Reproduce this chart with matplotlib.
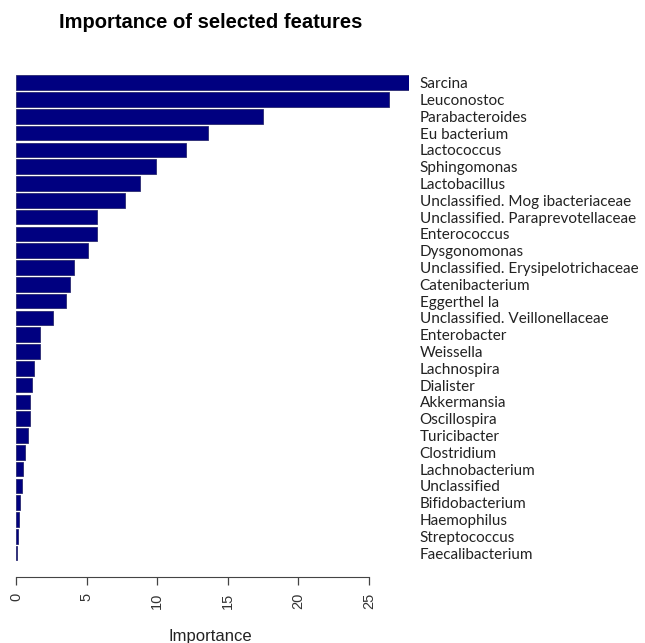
import numpy as np
import matplotlib.pyplot as plt

# feature importances, largest first
features = [
    "Sarcina", "Leuconostoc", "Parabacteroides", "Eu bacterium", "Lactococcus",
    "Sphingomonas", "Lactobacillus", "Unclassified. Mog ibacteriaceae",
    "Unclassified. Paraprevotellaceae", "Enterococcus", "Dysgonomonas",
    "Unclassified. Erysipelotrichaceae", "Catenibacterium", "Eggerthel la",
    "Unclassified. Veillonellaceae", "Enterobacter", "Weissella", "Lachnospira",
    "Dialister", "Akkermansia", "Oscillospira", "Turicibacter", "Clostridium",
    "Lachnobacterium", "Unclassified", "Bifidobacterium", "Haemophilus",
    "Streptococcus", "Faecalibacterium",
]
importance = [
    27.87, 26.43, 17.47, 13.57, 12.06, 9.93, 8.77, 7.69, 5.75, 5.70, 5.11,
    4.07, 3.83, 3.50, 2.63, 1.68, 1.66, 1.26, 1.11, 0.99, 0.95, 0.85, 0.62,
    0.48, 0.38, 0.24, 0.17, 0.10, 0.02,
]
xticks = [0, 5, 10, 15, 20, 25]

W, H = 645, 643
fig = plt.figure(figsize=(W / 100, H / 100), dpi=100)
ax = fig.add_axes([16.3 / W, 1 - 562.5 / H, 393 / W, (562.5 - 73.3) / H])

pos = np.arange(len(features))
ax.barh(pos, importance, height=0.88, color="#000080",
        edgecolor="#2a2a70", linewidth=0.6)

ax.set_xlim(0, max(importance))
ax.set_ylim(len(features) - 0.44, -0.56)

for s in ["top", "right", "left"]:
    ax.spines[s].set_visible(False)
ax.spines["bottom"].set_position(("outward", 10.7))
ax.spines["bottom"].set_bounds(0, 25)
ax.spines["bottom"].set_color("#444444")

ax.set_xticks(xticks)
ax.set_xticklabels([str(t) for t in xticks], rotation=90, fontsize=10.5,
                   family="Liberation Sans", color="#333333")
ax.tick_params(axis="x", length=5.8, width=0.9, color="#444444", pad=5.5)

ax.yaxis.tick_right()
ax.set_yticks(pos)
ax.set_yticklabels(features, fontsize=11, family="Lato", color="#222222")
ax.tick_params(axis="y", length=0, pad=7.5)

fig.text(211 / W, 1 - 22.7 / H, "Importance of selected features",
         ha="center", va="center", fontsize=14.5, fontweight="bold",
         family="Liberation Sans")
fig.text(210.5 / W, 1 - 637 / H, "Importance", ha="center", va="center",
         fontsize=12, family="Liberation Sans", color="#222222")

fig.savefig("out.png", dpi=100)
